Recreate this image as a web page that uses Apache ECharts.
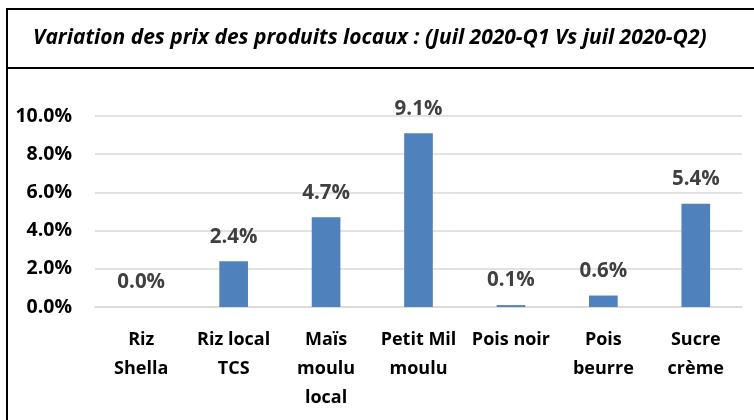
<!DOCTYPE html>
<html>
<head>
<meta charset="utf-8">
<script src="https://cdn.jsdelivr.net/npm/echarts@6/dist/echarts.min.js"></script>
<style>html,body{margin:0;padding:0;background:#fff;}#c{width:754px;height:420px;}</style>
</head>
<body>
<div id="c"></div>
<script>
var titleText = 'Variation des prix des produits locaux : (Juil 2020-Q1 Vs juil 2020-Q2)';
var categories = ['Riz\nShella', 'Riz local\nTCS', 'Maïs\nmoulu\nlocal', 'Petit Mil\nmoulu', 'Pois noir', 'Pois\nbeurre', 'Sucre\ncrème'];
var values = [0.0, 2.4, 4.7, 9.1, 0.1, 0.6, 5.4];
var yTicks = [0, 2, 4, 6, 8, 10];

var FONT = '"Open Sans", sans-serif';
var chart = echarts.init(document.getElementById('c'), null, {renderer: 'canvas'});
chart.setOption({
  animation: false,
  backgroundColor: '#fff',
  title: {
    text: titleText,
    left: 28, top: 23,
    textStyle: {fontFamily: FONT, fontSize: 21, fontWeight: 'bold', fontStyle: 'italic', color: '#000'}
  },
  graphic: [
    {type: 'line', shape: {x1: 7, y1: 9, x2: 754, y2: 9}, style: {stroke: '#000', lineWidth: 2}},
    {type: 'line', shape: {x1: 7, y1: 68, x2: 754, y2: 68}, style: {stroke: '#000', lineWidth: 2}},
    {type: 'line', shape: {x1: 7, y1: 8, x2: 7, y2: 420}, style: {stroke: '#000', lineWidth: 2}}
  ],
  grid: {left: 95, right: 12, top: 116, bottom: 113, containLabel: false},
  xAxis: {
    type: 'category',
    data: categories,
    axisLine: {show: true, lineStyle: {color: '#D9D9D9', width: 1.5}},
    axisTick: {show: false},
    axisLabel: {
      interval: 0, margin: 18, color: '#000',
      fontFamily: FONT, fontSize: 18, fontWeight: 'bold', lineHeight: 29
    }
  },
  yAxis: {
    type: 'value',
    min: yTicks[0], max: yTicks[yTicks.length - 1], interval: 2,
    axisLine: {show: false},
    axisTick: {show: false},
    splitLine: {lineStyle: {color: '#D9D9D9', width: 1.5}},
    axisLabel: {
      margin: 23, color: '#000',
      fontFamily: FONT, fontSize: 19.5, fontWeight: 'bold',
      formatter: function (v) { return v.toFixed(1) + '%'; }
    }
  },
  series: [{
    type: 'bar',
    data: values,
    barWidth: '31%',
    itemStyle: {color: '#4F81BD'},
    label: {
      show: true, position: 'top', distance: 14,
      color: '#404040', fontFamily: FONT, fontSize: 20.5, fontWeight: 'bold',
      formatter: function (p) { return p.value.toFixed(1) + '%'; }
    }
  }]
});
</script>
</body>
</html>
